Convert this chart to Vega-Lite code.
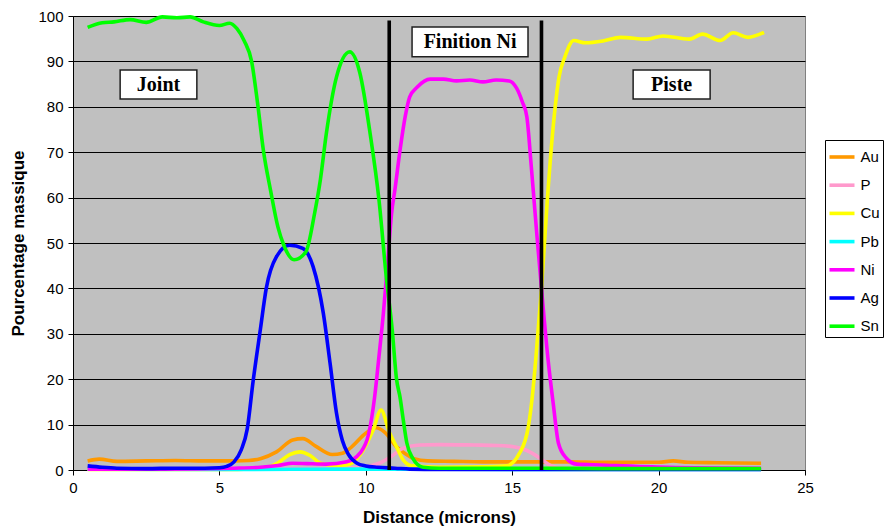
{
  "$schema": "https://vega.github.io/schema/vega-lite/v6.json",
  "width": 732,
  "height": 454,
  "autosize": "none",
  "padding": {"left": 73, "top": 16, "right": 82, "bottom": 62},
  "background": "white",
  "config": {
    "view": {"fill": "#C0C0C0", "stroke": "#808080", "strokeWidth": 1},
    "font": "Liberation Sans",
    "axis": {
      "labelFont": "Liberation Sans",
      "labelFontSize": 15,
      "labelColor": "#000000",
      "labelFlush": false,
      "titleFont": "Liberation Sans",
      "titleFontSize": 17,
      "titleFontWeight": "bold",
      "titleColor": "#000000",
      "tickColor": "#000000",
      "tickSize": 5,
      "domainColor": "#000000",
      "labelPadding": 5
    }
  },
  "datasets": {
    "curves": [
      {"el": "Au", "x": 0.5, "y": 2.0}, {"el": "Au", "x": 0.9, "y": 2.4}, {"el": "Au", "x": 1.5, "y": 1.9},
      {"el": "Au", "x": 2.5, "y": 2.0}, {"el": "Au", "x": 3.5, "y": 2.1}, {"el": "Au", "x": 4.5, "y": 2.0},
      {"el": "Au", "x": 5.5, "y": 2.0}, {"el": "Au", "x": 6.0, "y": 2.1}, {"el": "Au", "x": 6.4, "y": 2.5},
      {"el": "Au", "x": 6.95, "y": 4.0}, {"el": "Au", "x": 7.5, "y": 6.6}, {"el": "Au", "x": 7.85, "y": 6.9},
      {"el": "Au", "x": 8.3, "y": 5.2}, {"el": "Au", "x": 8.85, "y": 3.4}, {"el": "Au", "x": 9.2, "y": 3.7},
      {"el": "Au", "x": 9.5, "y": 5.0}, {"el": "Au", "x": 10.0, "y": 8.1}, {"el": "Au", "x": 10.35, "y": 9.3},
      {"el": "Au", "x": 10.65, "y": 8.3}, {"el": "Au", "x": 11.05, "y": 5.1}, {"el": "Au", "x": 11.35, "y": 3.6},
      {"el": "Au", "x": 11.65, "y": 2.5}, {"el": "Au", "x": 12.1, "y": 2.0}, {"el": "Au", "x": 13, "y": 1.9},
      {"el": "Au", "x": 14, "y": 1.8}, {"el": "Au", "x": 15, "y": 1.8}, {"el": "Au", "x": 16, "y": 1.8},
      {"el": "Au", "x": 17, "y": 1.8}, {"el": "Au", "x": 18, "y": 1.7}, {"el": "Au", "x": 19, "y": 1.7},
      {"el": "Au", "x": 20, "y": 1.7}, {"el": "Au", "x": 20.5, "y": 2.0}, {"el": "Au", "x": 21, "y": 1.7},
      {"el": "Au", "x": 22, "y": 1.6}, {"el": "Au", "x": 23.5, "y": 1.5},

      {"el": "P", "x": 0.5, "y": 0.2}, {"el": "P", "x": 5, "y": 0.2}, {"el": "P", "x": 9, "y": 0.4},
      {"el": "P", "x": 9.8, "y": 0.6}, {"el": "P", "x": 10.2, "y": 1.0}, {"el": "P", "x": 10.5, "y": 1.6},
      {"el": "P", "x": 10.85, "y": 2.9}, {"el": "P", "x": 11.25, "y": 4.7}, {"el": "P", "x": 11.85, "y": 5.5},
      {"el": "P", "x": 12.5, "y": 5.6}, {"el": "P", "x": 13.7, "y": 5.5}, {"el": "P", "x": 14.5, "y": 5.4},
      {"el": "P", "x": 15.05, "y": 5.1}, {"el": "P", "x": 15.5, "y": 4.3}, {"el": "P", "x": 15.95, "y": 2.6},
      {"el": "P", "x": 16.3, "y": 1.0}, {"el": "P", "x": 16.7, "y": 0.4}, {"el": "P", "x": 18, "y": 0.3},
      {"el": "P", "x": 23.5, "y": 0.3},

      {"el": "Cu", "x": 0.5, "y": 0.1}, {"el": "Cu", "x": 5, "y": 0.1}, {"el": "Cu", "x": 6.5, "y": 0.4},
      {"el": "Cu", "x": 7.0, "y": 1.6}, {"el": "Cu", "x": 7.4, "y": 3.4}, {"el": "Cu", "x": 7.75, "y": 4.0},
      {"el": "Cu", "x": 8.1, "y": 3.2}, {"el": "Cu", "x": 8.45, "y": 1.5}, {"el": "Cu", "x": 9.0, "y": 1.0},
      {"el": "Cu", "x": 9.35, "y": 1.1}, {"el": "Cu", "x": 9.8, "y": 3.3}, {"el": "Cu", "x": 10.25, "y": 8.8},
      {"el": "Cu", "x": 10.52, "y": 13.2}, {"el": "Cu", "x": 10.8, "y": 8.4}, {"el": "Cu", "x": 11.05, "y": 5.1},
      {"el": "Cu", "x": 11.28, "y": 2.2}, {"el": "Cu", "x": 11.6, "y": 0.9}, {"el": "Cu", "x": 12.5, "y": 0.6},
      {"el": "Cu", "x": 14, "y": 0.7}, {"el": "Cu", "x": 14.8, "y": 0.9}, {"el": "Cu", "x": 15.25, "y": 3.7},
      {"el": "Cu", "x": 15.55, "y": 9.5}, {"el": "Cu", "x": 15.7, "y": 17}, {"el": "Cu", "x": 15.8, "y": 24},
      {"el": "Cu", "x": 16.0, "y": 40}, {"el": "Cu", "x": 16.2, "y": 59.5}, {"el": "Cu", "x": 16.4, "y": 75.6},
      {"el": "Cu", "x": 16.6, "y": 86.6}, {"el": "Cu", "x": 16.8, "y": 91}, {"el": "Cu", "x": 17.1, "y": 94.6},
      {"el": "Cu", "x": 17.5, "y": 94.1}, {"el": "Cu", "x": 18.1, "y": 94.5}, {"el": "Cu", "x": 18.7, "y": 95.3},
      {"el": "Cu", "x": 19.6, "y": 94.9}, {"el": "Cu", "x": 20.15, "y": 95.6}, {"el": "Cu", "x": 21.05, "y": 94.9},
      {"el": "Cu", "x": 21.5, "y": 96.0}, {"el": "Cu", "x": 22.1, "y": 94.6}, {"el": "Cu", "x": 22.55, "y": 96.3},
      {"el": "Cu", "x": 23.05, "y": 95.3}, {"el": "Cu", "x": 23.6, "y": 96.4},

      {"el": "Pb", "x": 0.5, "y": 0.2}, {"el": "Pb", "x": 5, "y": 0.1}, {"el": "Pb", "x": 10, "y": 0.2},
      {"el": "Pb", "x": 15, "y": 0.1}, {"el": "Pb", "x": 20, "y": 0.1}, {"el": "Pb", "x": 23.5, "y": 0.1},

      {"el": "Ni", "x": 0.5, "y": 0.2}, {"el": "Ni", "x": 3, "y": 0.2}, {"el": "Ni", "x": 5.5, "y": 0.4},
      {"el": "Ni", "x": 6.4, "y": 0.6}, {"el": "Ni", "x": 7.0, "y": 1.0}, {"el": "Ni", "x": 7.5, "y": 1.5},
      {"el": "Ni", "x": 8.0, "y": 1.4}, {"el": "Ni", "x": 8.65, "y": 1.3}, {"el": "Ni", "x": 9.35, "y": 1.8},
      {"el": "Ni", "x": 9.8, "y": 3.7}, {"el": "Ni", "x": 10.1, "y": 8.0}, {"el": "Ni", "x": 10.3, "y": 16},
      {"el": "Ni", "x": 10.45, "y": 25}, {"el": "Ni", "x": 10.6, "y": 34.5}, {"el": "Ni", "x": 10.75, "y": 46},
      {"el": "Ni", "x": 10.88, "y": 56.5}, {"el": "Ni", "x": 11.0, "y": 62}, {"el": "Ni", "x": 11.17, "y": 70.5},
      {"el": "Ni", "x": 11.35, "y": 78}, {"el": "Ni", "x": 11.5, "y": 82.2}, {"el": "Ni", "x": 11.75, "y": 84.3},
      {"el": "Ni", "x": 12.2, "y": 86.1}, {"el": "Ni", "x": 12.65, "y": 86.1}, {"el": "Ni", "x": 13.1, "y": 85.7},
      {"el": "Ni", "x": 13.55, "y": 85.9}, {"el": "Ni", "x": 14.0, "y": 85.5}, {"el": "Ni", "x": 14.45, "y": 85.9},
      {"el": "Ni", "x": 14.9, "y": 85.7}, {"el": "Ni", "x": 15.15, "y": 84.1}, {"el": "Ni", "x": 15.35, "y": 81},
      {"el": "Ni", "x": 15.5, "y": 77.8}, {"el": "Ni", "x": 15.65, "y": 67}, {"el": "Ni", "x": 15.84, "y": 52},
      {"el": "Ni", "x": 16.0, "y": 40}, {"el": "Ni", "x": 16.23, "y": 24}, {"el": "Ni", "x": 16.4, "y": 14.7},
      {"el": "Ni", "x": 16.58, "y": 5.9}, {"el": "Ni", "x": 16.85, "y": 2.6}, {"el": "Ni", "x": 17.2, "y": 1.3},
      {"el": "Ni", "x": 18, "y": 1.1}, {"el": "Ni", "x": 20.3, "y": 0.6}, {"el": "Ni", "x": 23.5, "y": 0.4},

      {"el": "Ag", "x": 0.5, "y": 0.9}, {"el": "Ag", "x": 1.0, "y": 0.6}, {"el": "Ag", "x": 1.5, "y": 0.4},
      {"el": "Ag", "x": 2.5, "y": 0.3}, {"el": "Ag", "x": 3.5, "y": 0.4}, {"el": "Ag", "x": 4.5, "y": 0.4},
      {"el": "Ag", "x": 5.0, "y": 0.5}, {"el": "Ag", "x": 5.25, "y": 0.8}, {"el": "Ag", "x": 5.5, "y": 1.8},
      {"el": "Ag", "x": 5.75, "y": 4.5}, {"el": "Ag", "x": 5.95, "y": 9}, {"el": "Ag", "x": 6.15, "y": 19.5},
      {"el": "Ag", "x": 6.4, "y": 31}, {"el": "Ag", "x": 6.6, "y": 40}, {"el": "Ag", "x": 6.95, "y": 47},
      {"el": "Ag", "x": 7.4, "y": 49.5}, {"el": "Ag", "x": 7.85, "y": 48.8}, {"el": "Ag", "x": 8.2, "y": 44.8},
      {"el": "Ag", "x": 8.55, "y": 34.5}, {"el": "Ag", "x": 8.78, "y": 23.5}, {"el": "Ag", "x": 9.0, "y": 12.5},
      {"el": "Ag", "x": 9.2, "y": 6.5}, {"el": "Ag", "x": 9.4, "y": 3.5}, {"el": "Ag", "x": 9.7, "y": 1.5},
      {"el": "Ag", "x": 10.0, "y": 0.9}, {"el": "Ag", "x": 10.4, "y": 0.6}, {"el": "Ag", "x": 11, "y": 0.4},
      {"el": "Ag", "x": 11.5, "y": 0.2}, {"el": "Ag", "x": 12.5, "y": 0.1}, {"el": "Ag", "x": 23.5, "y": 0.1},

      {"el": "Sn", "x": 0.5, "y": 97.5}, {"el": "Sn", "x": 1.0, "y": 98.5}, {"el": "Sn", "x": 1.4, "y": 98.7},
      {"el": "Sn", "x": 1.95, "y": 99.2}, {"el": "Sn", "x": 2.5, "y": 98.6}, {"el": "Sn", "x": 3.05, "y": 99.8},
      {"el": "Sn", "x": 3.55, "y": 99.6}, {"el": "Sn", "x": 4.0, "y": 99.8}, {"el": "Sn", "x": 4.45, "y": 98.7},
      {"el": "Sn", "x": 5.0, "y": 97.9}, {"el": "Sn", "x": 5.35, "y": 98.4}, {"el": "Sn", "x": 5.6, "y": 97.2},
      {"el": "Sn", "x": 5.85, "y": 94.5}, {"el": "Sn", "x": 6.1, "y": 90}, {"el": "Sn", "x": 6.3, "y": 81},
      {"el": "Sn", "x": 6.5, "y": 70.5}, {"el": "Sn", "x": 6.75, "y": 61.5}, {"el": "Sn", "x": 7.0, "y": 53.5},
      {"el": "Sn", "x": 7.2, "y": 49.5}, {"el": "Sn", "x": 7.55, "y": 46.3}, {"el": "Sn", "x": 7.95, "y": 48},
      {"el": "Sn", "x": 8.25, "y": 56.5}, {"el": "Sn", "x": 8.45, "y": 64}, {"el": "Sn", "x": 8.65, "y": 74},
      {"el": "Sn", "x": 9.0, "y": 86.6}, {"el": "Sn", "x": 9.45, "y": 92.1}, {"el": "Sn", "x": 9.8, "y": 87.4},
      {"el": "Sn", "x": 10.15, "y": 74}, {"el": "Sn", "x": 10.45, "y": 59.5}, {"el": "Sn", "x": 10.7, "y": 42.5},
      {"el": "Sn", "x": 10.9, "y": 31}, {"el": "Sn", "x": 11.05, "y": 20}, {"el": "Sn", "x": 11.17, "y": 16},
      {"el": "Sn", "x": 11.28, "y": 11}, {"el": "Sn", "x": 11.4, "y": 6}, {"el": "Sn", "x": 11.6, "y": 2.6},
      {"el": "Sn", "x": 11.95, "y": 0.6}, {"el": "Sn", "x": 12.5, "y": 0.4}, {"el": "Sn", "x": 14, "y": 0.4},
      {"el": "Sn", "x": 16, "y": 0.4}, {"el": "Sn", "x": 18, "y": 0.3}, {"el": "Sn", "x": 20, "y": 0.3},
      {"el": "Sn", "x": 23.5, "y": 0.3}
    ],
    "boundaries": [{"x": 10.8}, {"x": 16.0}],
    "zones": [
      {"label": "Joint", "x1": 1.61, "x2": 4.23, "y1": 81.7, "y2": 88.1},
      {"label": "Finition Ni", "x1": 11.58, "x2": 15.54, "y1": 91.0, "y2": 97.6},
      {"label": "Piste", "x1": 19.13, "x2": 21.76, "y1": 81.7, "y2": 88.1}
    ]
  },
  "layer": [
    {
      "data": {"name": "curves"},
      "mark": {"type": "line", "strokeWidth": 3.6, "interpolate": "monotone"},
      "encoding": {
        "x": {
          "field": "x", "type": "quantitative",
          "scale": {"domain": [0, 25], "nice": false, "zero": false},
          "axis": {"values": [0, 5, 10, 15, 20, 25], "grid": false, "title": "Distance (microns)", "titlePadding": 14}
        },
        "y": {
          "field": "y", "type": "quantitative",
          "scale": {"domain": [0, 100], "nice": false},
          "axis": {
            "values": [0, 10, 20, 30, 40, 50, 60, 70, 80, 90, 100],
            "grid": true, "gridColor": "#000000", "gridOpacity": 1, "gridWidth": 1,
            "title": "Pourcentage massique", "titlePadding": 10
          }
        },
        "color": {
          "field": "el", "type": "nominal", "sort": ["Au", "P", "Cu", "Pb", "Ni", "Ag", "Sn"],
          "scale": {
            "domain": ["Au", "P", "Cu", "Pb", "Ni", "Ag", "Sn"],
            "range": ["#FF9900", "#FF99CC", "#FFFF00", "#00FFFF", "#FF00FF", "#0000FF", "#00FF00"]
          },
          "legend": {
            "title": null,
            "orient": "none",
            "legendX": 752,
            "legendY": 124,
            "symbolType": "stroke",
            "symbolSize": 625,
            "symbolStrokeWidth": 3.6,
            "labelFont": "Liberation Sans",
            "labelFontSize": 15,
            "labelColor": "#000000",
            "labelOffset": 4,
            "rowPadding": 5.2,
            "padding": 2.5,
            "strokeColor": "#000000",
            "fillColor": "#FFFFFF"
          }
        }
      }
    },
    {
      "data": {"name": "boundaries"},
      "mark": {"type": "rule", "color": "#000000", "strokeWidth": 3.6},
      "encoding": {
        "x": {"field": "x", "type": "quantitative"},
        "y": {"datum": 0},
        "y2": {"datum": 99}
      }
    },
    {
      "data": {"name": "zones"},
      "mark": {"type": "rect", "fill": "#FFFFFF", "stroke": "#202020", "strokeWidth": 1.5},
      "encoding": {
        "x": {"field": "x1", "type": "quantitative"},
        "x2": {"field": "x2"},
        "y": {"field": "y1", "type": "quantitative"},
        "y2": {"field": "y2"}
      }
    },
    {
      "data": {"name": "zones"},
      "transform": [
        {"calculate": "(datum.x1 + datum.x2) / 2", "as": "xc"},
        {"calculate": "(datum.y1 + datum.y2) / 2", "as": "yc"}
      ],
      "mark": {"type": "text", "font": "Liberation Serif", "fontWeight": "bold", "fontSize": 20, "color": "#000000", "baseline": "middle", "align": "center"},
      "encoding": {
        "x": {"field": "xc", "type": "quantitative"},
        "y": {"field": "yc", "type": "quantitative"},
        "text": {"field": "label"}
      }
    }
  ]
}
